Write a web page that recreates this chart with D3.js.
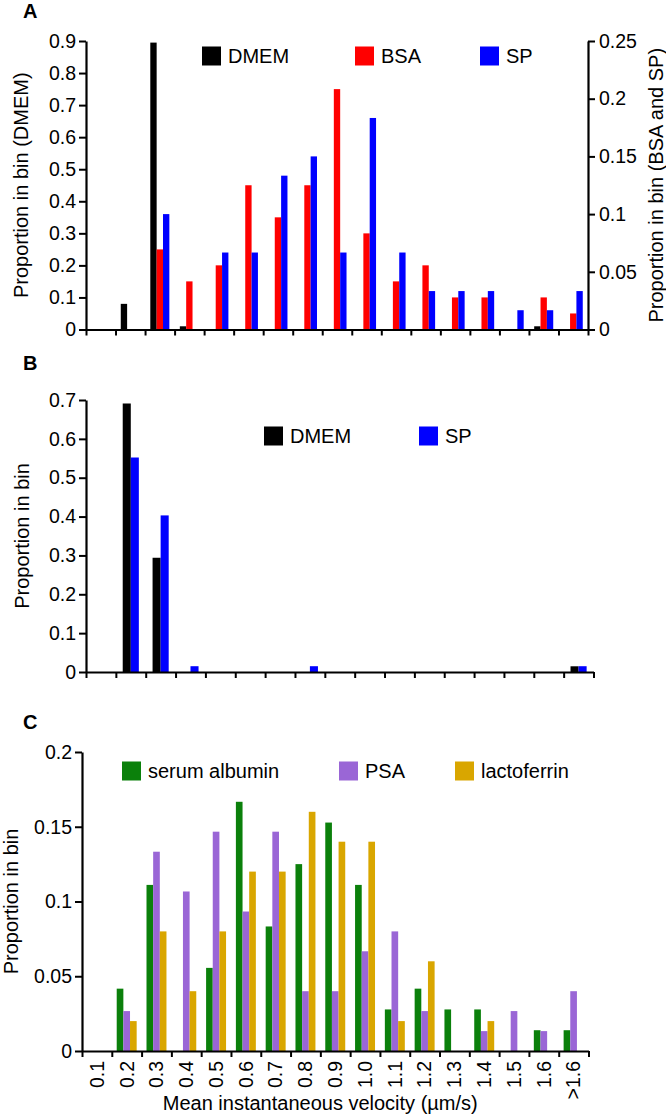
<!DOCTYPE html>
<html><head><meta charset="utf-8">
<script src="https://cdn.jsdelivr.net/npm/d3@7"></script>
<style>
body{margin:0;background:#fff}
text{font-family:"Liberation Sans",Arial,Helvetica,sans-serif;fill:#000}
</style></head>
<body><svg id="chart" width="666" height="1116"></svg>
<script>
// ---------- DATA ----------
const bins = ["0.1","0.2","0.3","0.4","0.5","0.6","0.7","0.8","0.9","1.0","1.1","1.2","1.3","1.4","1.5","1.6",">1.6"];

// Panel A (DMEM on left axis, BSA & SP on right axis)
const dmemA = [0,0.08,0.895,0.01,0,0,0,0,0,0,0,0,0,0,0,0.01,0];
const bsaA  = [0,0,0.0694,0.0417,0.0556,0.125,0.0972,0.125,0.2083,0.0833,0.0417,0.0556,0.0278,0.0278,0,0.0278,0.0139];
const spA   = [0,0,0.1,0,0.0667,0.0667,0.1333,0.15,0.0667,0.1833,0.0667,0.0333,0.0333,0.0333,0.0167,0.0167,0.0333];
const ticksALeft  = [0,0.1,0.2,0.3,0.4,0.5,0.6,0.7,0.8,0.9];
const ticksARight = [0,0.05,0.1,0.15,0.2,0.25];

// Panel B
const dmemB = [0,0.691,0.294,0,0,0,0,0,0,0,0,0,0,0,0,0,0.0147];
const spB   = [0,0.552,0.403,0.0149,0,0,0,0.0149,0,0,0,0,0,0,0,0,0.0149];
const ticksB = [0,0.1,0.2,0.3,0.4,0.5,0.6,0.7];

// Panel C
const albuminC     = [0,0.0417,0.1111,0,0.0556,0.1667,0.0833,0.125,0.1528,0.1111,0.0278,0.0417,0.0278,0.0278,0,0.0139,0.0139];
const psaC         = [0,0.0267,0.1333,0.1067,0.1467,0.0933,0.1467,0.04,0.04,0.0667,0.08,0.0267,0,0.0133,0.0267,0.0133,0.04];
const lactoferrinC = [0,0.02,0.08,0.04,0.08,0.12,0.12,0.16,0.14,0.14,0.02,0.06,0,0.02,0,0,0];
const ticksC = [0,0.05,0.1,0.15,0.2];

const fmt = v => v === 0 ? "0" : String(+v.toFixed(2));

// ---------- DRAW ----------
const svg = d3.select("#chart");

function panel(cfg){
  const g = svg.append("g");
  const x = d3.scaleBand().domain(d3.range(bins.length)).range([cfg.x0, cfg.x1]).padding(0);
  const xl = d3.scaleLinear().domain([0, bins.length]).range([cfg.x0, cfg.x1]);
  const y = d3.scaleLinear().domain(cfg.domain).range([cfg.yBase, cfg.yTop]);
  const yR = cfg.domainR ? d3.scaleLinear().domain(cfg.domainR).range([cfg.yBase, cfg.yTop]) : null;
  const bw = x.bandwidth();
  const groupW = bw * cfg.groupFrac;
  const inner = d3.scaleBand().domain(d3.range(cfg.series.length)).range([(bw-groupW)/2, (bw+groupW)/2]).padding(0);

  cfg.series.forEach((s, si) => {
    const sc = s.right ? yR : y;
    const pts = s.values.map((v, i) => ({i, v})).filter(d => d.v > 0);
    g.append("g").selectAll("rect").data(pts).join("rect")
      .attr("x", d => x(d.i) + inner(si))
      .attr("width", inner.bandwidth())
      .attr("y", d => sc(d.v))
      .attr("height", d => cfg.yBase - sc(d.v))
      .attr("fill", s.color);
  });

  // x axis (ticks at bin boundaries)
  const xa = g.append("g").attr("transform", `translate(0,${cfg.yBase})`)
    .call(d3.axisBottom(xl).tickValues(d3.range(bins.length+1)).tickSize(6).tickSizeOuter(0).tickFormat(""));
  xa.select(".domain").attr("stroke-width", 2.2);
  xa.selectAll(".tick line").attr("stroke-width", 2);

  // left y axis
  const ya = g.append("g").attr("transform", `translate(${cfg.x0},0)`)
    .call(d3.axisLeft(y).tickValues(cfg.ticks).tickSize(7).tickSizeOuter(0).tickPadding(3).tickFormat(fmt));
  ya.select(".domain").attr("stroke-width", 2.2);
  ya.selectAll(".tick line").attr("stroke-width", 2);
  ya.selectAll("text").style("font-size", "19.5px").attr("font-family", null);

  if (yR){
    const yra = g.append("g").attr("transform", `translate(${cfg.x1},0)`)
      .call(d3.axisRight(yR).tickValues(cfg.ticksR).tickSize(7).tickSizeOuter(0).tickPadding(4).tickFormat(fmt));
    yra.select(".domain").attr("stroke-width", 2.2);
    yra.selectAll(".tick line").attr("stroke-width", 2);
    yra.selectAll("text").style("font-size", "19.5px").attr("font-family", null);
    g.append("text")
      .attr("transform", `translate(${cfg.yTitleRX},${(cfg.yBase+cfg.yTop)/2}) rotate(-90)`)
      .attr("text-anchor", "middle").attr("dy", "0.35em")
      .style("font-size", "20px").text(cfg.yTitleR);
  }

  g.append("text")
    .attr("transform", `translate(${cfg.yTitleX},${(cfg.yBase+cfg.yTop)/2}) rotate(-90)`)
    .attr("text-anchor", "middle").attr("dy", "0.35em")
    .style("font-size", "20px").text(cfg.yTitle);

  // panel letter
  g.append("text").attr("x", 23).attr("y", cfg.letterY)
    .style("font-size", "20px").style("font-weight", "bold").text(cfg.letter);

  // legend
  cfg.series.forEach((s, si) => {
    const lx = cfg.legendX[si];
    g.append("rect").attr("x", lx).attr("y", cfg.legendY - 9.5).attr("width", 19).attr("height", 19).attr("fill", s.color);
    g.append("text").attr("x", lx + 26).attr("y", cfg.legendY).attr("dy", "0.36em")
      .style("font-size", "20px").text(s.name);
  });

  if (cfg.xLabels){
    g.append("g").selectAll("text").data(bins).join("text")
      .attr("transform", (d,i) => `translate(${x(i) + bw/2},${cfg.yBase + 10}) rotate(-90)`)
      .attr("text-anchor", "end").attr("dy", "0.35em")
      .style("font-size", "19.5px").text(d => d);
    g.append("text").attr("x", (cfg.x0+cfg.x1)/2 - 15).attr("y", 1110)
      .attr("text-anchor", "middle").style("font-size", "20px")
      .text("Mean instantaneous velocity (\u00b5m/s)");
  }
}

panel({
  letter: "A", letterY: 18,
  x0: 86, x1: 588, yBase: 329.5, yTop: 41,
  domain: [0, 0.9], ticks: ticksALeft,
  domainR: [0, 0.25], ticksR: ticksARight,
  groupFrac: 0.645,
  series: [
    {name: "DMEM", values: dmemA, color: "#000000"},
    {name: "BSA", values: bsaA, color: "#ff0000", right: true},
    {name: "SP", values: spA, color: "#0000ff", right: true}
  ],
  legendX: [202, 355, 480], legendY: 56,
  yTitle: "Proportion in bin (DMEM)", yTitleX: 21,
  yTitleR: "Proportion in bin (BSA and SP)", yTitleRX: 656
});

panel({
  letter: "B", letterY: 370,
  x0: 86, x1: 593.5, yBase: 672, yTop: 400,
  domain: [0, 0.7], ticks: ticksB,
  groupFrac: 0.54,
  series: [
    {name: "DMEM", values: dmemB, color: "#000000"},
    {name: "SP", values: spB, color: "#0000ff"}
  ],
  legendX: [264, 419], legendY: 436,
  yTitle: "Proportion in bin", yTitleX: 22
});

panel({
  letter: "C", letterY: 729,
  x0: 82, x1: 588.5, yBase: 1051, yTop: 752,
  domain: [0, 0.2], ticks: ticksC,
  groupFrac: 0.67,
  series: [
    {name: "serum albumin", values: albuminC, color: "#0b800b"},
    {name: "PSA", values: psaC, color: "#9a66d6"},
    {name: "lactoferrin", values: lactoferrinC, color: "#d9a600"}
  ],
  legendX: [122, 339, 455], legendY: 771,
  yTitle: "Proportion in bin", yTitleX: 11,
  xLabels: true
});
</script></body></html>
